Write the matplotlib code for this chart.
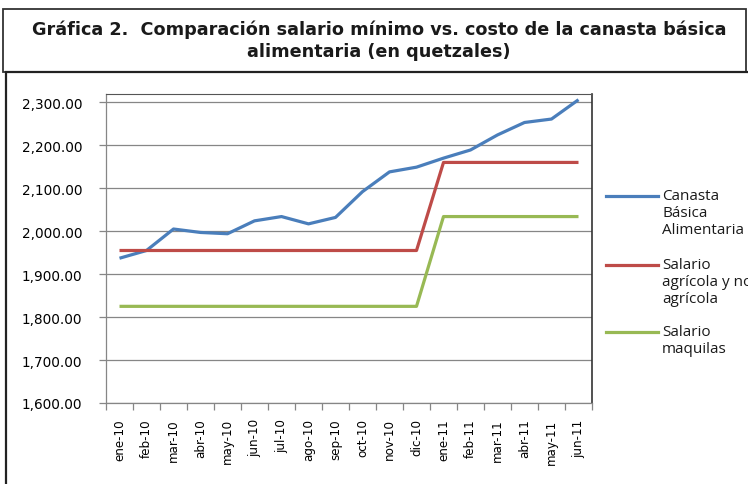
import matplotlib
matplotlib.use("Agg")
import matplotlib.pyplot as plt
from matplotlib.lines import Line2D
from matplotlib.patches import Rectangle
from matplotlib.ticker import FuncFormatter, FixedLocator

# data (quetzales)
months = ["ene-10", "feb-10", "mar-10", "abr-10", "may-10", "jun-10",
          "jul-10", "ago-10", "sep-10", "oct-10", "nov-10", "dic-10",
          "ene-11", "feb-11", "mar-11", "abr-11", "may-11", "jun-11"]
canasta = [1937, 1955, 2005, 1997, 1994, 2024, 2034, 2017, 2032, 2092,
           2138, 2149, 2170, 2189, 2224, 2253, 2261, 2306]
salario_agricola = [1955] * 12 + [2160] * 6
salario_maquilas = [1825] * 12 + [2034] * 6

labels = ["Canasta\nBásica\nAlimentaria",
          "Salario\nagrícola y no\nagrícola",
          "Salario\nmaquilas"]
colors = ["#4A7EBB", "#BE4B48", "#98B954"]
yticks = [1600, 1700, 1800, 1900, 2000, 2100, 2200, 2300]

W, H = 748, 485
fig = plt.figure(figsize=(W / 100, H / 100), dpi=100)

# title box and chart box
fig.patches.append(Rectangle((3 / W, 1 - 73 / H), 743 / W, 63 / H,
                             transform=fig.transFigure, fill=False,
                             edgecolor="#333333", linewidth=1.3))
fig.patches.append(Rectangle((6 / W, -0.01), 760 / W, 1 - 73 / H + 0.01,
                             transform=fig.transFigure, fill=False,
                             edgecolor="#222222", linewidth=1.6))
title_kw = dict(ha="center", va="center", fontsize=12.7, fontweight="bold",
                family="DejaVu Sans", color="#1a1a1a")
fig.text(379 / W, 1 - 30 / H,
         "Gráfica 2.  Comparación salario mínimo vs. costo de la canasta básica",
         **title_kw)
fig.text(379 / W, 1 - 52 / H, "alimentaria (en quetzales)", **title_kw)

ax = fig.add_axes([106 / W, 1 - 404 / H, 486 / W, 309 / H])
x = list(range(len(months)))
series = [canasta, salario_agricola, salario_maquilas]
for vals, c in zip(series, colors):
    ax.plot(x, vals, color=c, linewidth=2.3, solid_capstyle="butt", zorder=3)

ax.set_xlim(-0.5, len(months) - 0.5)
ax.set_ylim(1600, 2319.3)
ax.set_yticks(yticks)
ax.yaxis.set_major_formatter(FuncFormatter(lambda v, p: f"{v:,.2f}"))
ax.grid(axis="y", color="#868686", linewidth=0.9)
ax.set_axisbelow(True)

ax.set_xticks(x)
ax.set_xticklabels(months, rotation=90, fontsize=8.6, family="DejaVu Sans")
ax.tick_params(axis="x", which="major", length=0, pad=11)
ax.xaxis.set_minor_locator(FixedLocator([i - 0.5 for i in range(len(months) + 1)]))
ax.tick_params(axis="x", which="minor", length=5, color="#868686", width=0.9)
ax.tick_params(axis="y", length=5, color="#868686", width=0.9, pad=12,
               labelsize=9.8)
for lab in ax.get_yticklabels():
    lab.set_family("DejaVu Sans")

for s in ["left", "bottom"]:
    ax.spines[s].set_color("#868686")
    ax.spines[s].set_linewidth(0.9)
ax.spines["top"].set_color("#555555")
ax.spines["right"].set_color("#333333")
ax.spines["right"].set_linewidth(1.2)

# legend drawn to the right (text runs off the right edge as in the original)
leg_y = [197, 266, 333]
for ly, lab, c in zip(leg_y, labels, colors):
    fig.lines.append(Line2D([606 / W, 658 / W], [1 - ly / H, 1 - ly / H],
                            transform=fig.transFigure, color=c, linewidth=2.3))
    fig.text(662 / W, 1 - (ly - 8) / H, lab, ha="left", va="top",
             fontsize=11, family="Open Sans", color="#1a1a1a",
             linespacing=1.17)

fig.savefig("out.png", dpi=100)
